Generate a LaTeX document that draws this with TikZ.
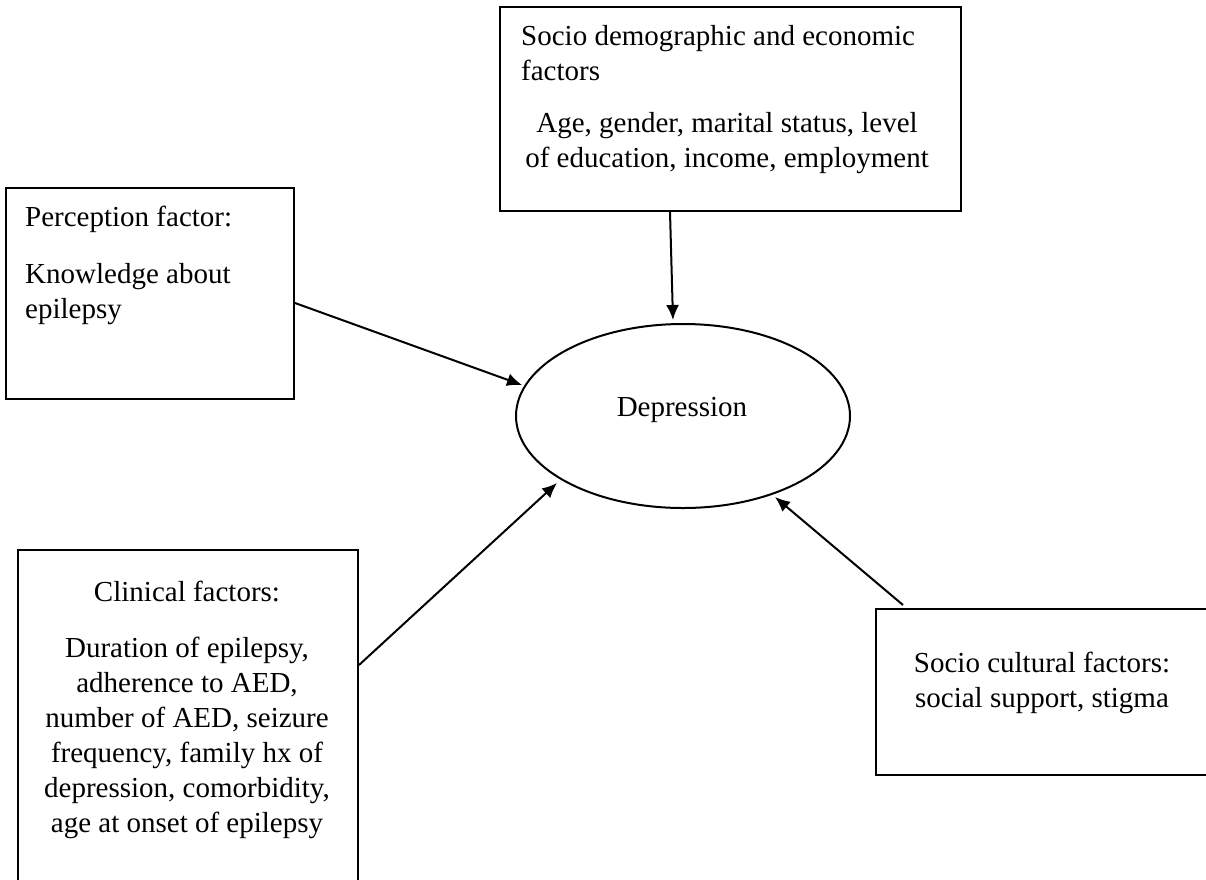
\documentclass[tikz,border=0pt]{standalone}
\usepackage{fontspec}
\setmainfont{Liberation Serif}
\usetikzlibrary{arrows.meta,shapes.geometric}
\newcommand\diagfont{\fontsize{29}{35}\selectfont}
\begin{document}
\begin{tikzpicture}[x=1pt,y=-1pt,
  box/.style={draw, line width=2pt, inner sep=0pt, anchor=north west},
  txt/.style={inner sep=0pt, font=\diagfont},
  arr/.style={line width=2pt, -{Latex[length=15pt,width=13pt]}}]
\useasboundingbox (0,0) rectangle (1206,879);

% Depression ellipse
\node[draw, ellipse, line width=2pt, minimum width=334pt, minimum height=184pt, inner sep=0pt] (dep) at (683,416) {};
\node[txt, anchor=base] (dept) at (682,416) {Depression};

% Socio demographic box
\node[box, minimum width=461pt, minimum height=204pt] (sde) at (499,6) {};
\node[txt, anchor=base west] (sde1) at (521,45) {Socio demographic and economic};
\node[txt, anchor=base west] (sde2) at (521,80) {factors};
\node[txt, anchor=base] (sde3) at (727,132) {Age, gender, marital status, level};
\node[txt, anchor=base] (sde4) at (727,167) {of education, income, employment};

% Perception box
\node[box, minimum width=288pt, minimum height=211pt] (per) at (5,187) {};
\node[txt, anchor=base west] (per1) at (25,226) {Perception factor:};
\node[txt, anchor=base west] (per2) at (25,283) {Knowledge about};
\node[txt, anchor=base west] (per3) at (25,318) {epilepsy};

% Clinical box
\node[box, minimum width=340pt, minimum height=333pt] (cli) at (17,549) {};
\node[txt, anchor=base] (cli0) at (187,601) {Clinical factors:};
\foreach \t [count=\i] in {{Duration of epilepsy,},{adherence to AED,},{number of AED, seizure},{frequency, family hx of},{depression, comorbidity,},{age at onset of epilepsy}}
  \node[txt, anchor=base] (cli\i) at (187,{657+35*(\i-1)}) {\t};

% Socio cultural box
\node[box, minimum width=340pt, minimum height=166pt] (soc) at (875,608) {};
\node[txt, anchor=base] (soc1) at (1042,672) {Socio cultural factors:};
\node[txt, anchor=base] (soc2) at (1042,707) {social support, stigma};

% Arrows
\draw[arr] ([xshift=171pt]sde.south west) -- ([shift={(-10,-96)}]dep.center);
\draw[arr] ([shift={(0,116)}]per.north east) -- ([shift={(-161,-31)}]dep.center);
\draw[arr] ([shift={(0,116)}]cli.north east) -- ([shift={(-126,67)}]dep.center);
\draw[arr] ([shift={(28,-3)}]soc.north west) -- ([shift={(92,81)}]dep.center);
\end{tikzpicture}
\end{document}
